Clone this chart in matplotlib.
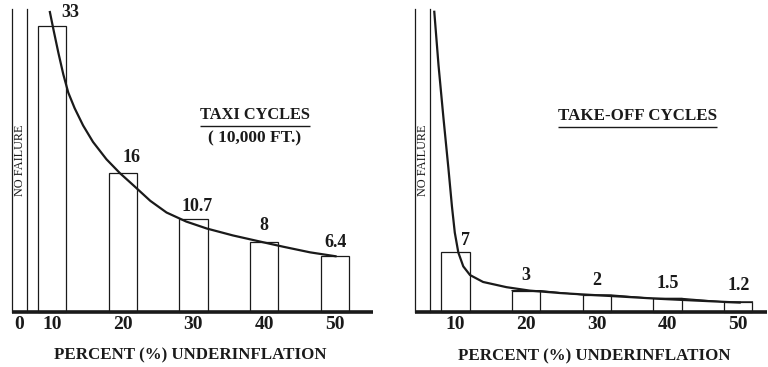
import matplotlib
matplotlib.use("Agg")
import matplotlib.pyplot as plt

# ─── data ────────────────────────────────────────────────────────────────────

UNDERINFLATION = [10, 20, 30, 40, 50]

TAXI_VALUES = [33, 16, 10.7, 8, 6.4]
TAXI_LABELS = ["33", "16", "10.7", "8", "6.4"]

TAKEOFF_VALUES = [7, 2.5, 2.0, 1.6, 1.2]          # bar heights as drawn
TAKEOFF_LABELS = ["7", "3", "2", "1.5", "1.2"]

# fitted curves
TAXI_CURVE_X = [9.7, 10.2, 10.9, 11.6, 12.3, 13.2, 14.4, 15.8, 17.7, 19.6,
                21.5, 23.9, 26.2, 29.0, 31.9, 35.6, 39.4, 42.7, 46.5, 50.1]
TAXI_CURVE_Y = [34.6, 32.6, 29.9, 27.4, 25.3, 23.5, 21.5, 19.6, 17.6, 16.0,
                14.6, 12.8, 11.45, 10.4, 9.6, 8.8, 8.1, 7.5, 6.85, 6.4]

TAKEOFF_CURVE_X = [7.0, 7.6, 8.3, 9.0, 9.5, 9.9, 10.4, 11.1, 12.05, 13.9,
                   17.2, 20.5, 24.8, 28.0, 33.2, 38.9, 44.0, 50.2]
TAKEOFF_CURVE_Y = [34.7, 28.5, 22.4, 16.6, 12.2, 9.2, 6.9, 5.3, 4.3, 3.5,
                   2.9, 2.5, 2.22, 2.06, 1.82, 1.55, 1.35, 1.12]

# ─── style ───────────────────────────────────────────────────────────────────

FONT = ["Liberation Serif", "DejaVu Serif"]
INK = "#1a1a1a"
BAR_W = 4.0

plt.rcParams["font.family"] = FONT


def underline(ax, txt, fig, gap=0.35):
    fig.canvas.draw()
    bb = txt.get_window_extent()
    inv = ax.transData.inverted()
    (x0, y0), (x1, _) = inv.transform([(bb.x0, bb.y0), (bb.x1, bb.y1)])
    ax.plot([x0, x1], [y0 - gap, y0 - gap], color=INK, lw=1.0,
            solid_capstyle="butt")


def draw_panel(ax, values, labels, label_dx, label_dy, cx, cy, xlim, ylim,
               axis_x, nofail_x, base_right, zero_label=False, gaps=False):
    ax.set_xlim(*xlim)
    ax.set_ylim(*ylim)
    ax.axis("off")

    # bars
    ax.bar(UNDERINFLATION, values, width=BAR_W, color="white",
           edgecolor=INK, linewidth=0.9, zorder=2)

    # connecting tops between later bars
    if gaps:
        xs, ys = [], []
        for x, v in zip(UNDERINFLATION[1:], values[1:]):
            xs += [x - BAR_W / 2, x + BAR_W / 2]
            ys += [v, v]
        ax.plot(xs, ys, color=INK, lw=0.9, zorder=2)

    # axes / no-failure line
    top = 35.0
    ax.plot([axis_x, axis_x], [0, top], color=INK, lw=0.9, zorder=3)
    ax.plot([nofail_x, nofail_x], [0, top], color=INK, lw=0.9, zorder=3)
    ax.plot([axis_x, base_right], [0, 0], color=INK, lw=2.6,
            solid_capstyle="butt", zorder=4)
    ax.text((axis_x + nofail_x) / 2 + 0.05, 17.5, "NO FAILURE", rotation=90,
            ha="center", va="center", fontsize=8.8, color=INK)

    # fitted curve
    ax.plot(cx, cy, color=INK, lw=1.6, zorder=5, solid_joinstyle="round")

    # value labels
    for x, v, lab, dx, dy in zip(UNDERINFLATION, values, labels, label_dx, label_dy):
        ax.text(x + dx, v + dy, lab, ha="center", va="center",
                fontsize=13, fontweight="bold", color=INK, zorder=6)

    # tick labels
    for x in UNDERINFLATION:
        ax.text(x, -1.45, str(x), ha="center", va="center",
                fontsize=14, fontweight="bold", color=INK)
    if zero_label:
        ax.text(5.35, -1.45, "0", ha="center", va="center",
                fontsize=14, fontweight="bold", color=INK)

    ax.text(29.6, -5.05, "PERCENT (%) UNDERINFLATION", ha="center",
            va="center", fontsize=12.2, fontweight="bold", color=INK)


fig = plt.figure(figsize=(7.68, 3.67), dpi=100, facecolor="white")

ax_l = fig.add_axes([0, 0, 0.5, 1])
ax_r = fig.add_axes([0.5, 0, 0.5, 1])

draw_panel(ax_l, TAXI_VALUES, TAXI_LABELS,
           label_dx=[2.6, 1.2, 0.5, 0.0, 0.1],
           label_dy=[1.5, 1.75, 1.4, 1.9, 1.55],
           cx=TAXI_CURVE_X, cy=TAXI_CURVE_Y,
           xlim=(2.645, 56.96), ylim=(-6.39, 35.99),
           axis_x=4.34, nofail_x=6.42, base_right=55.4, zero_label=True)

draw_panel(ax_r, TAKEOFF_VALUES, TAKEOFF_LABELS,
           label_dx=[1.4, 0.0, 0.0, 0.0, 0.0],
           label_dy=[1.3, 1.7, 1.65, 1.75, 1.9],
           cx=TAKEOFF_CURVE_X, cy=TAKEOFF_CURVE_Y,
           xlim=(-0.113, 54.2), ylim=(-6.32, 36.06),
           axis_x=4.27, nofail_x=6.35, base_right=54.1, gaps=True)

t1 = ax_l.text(38.67, 22.7, "TAXI CYCLES", ha="center", va="center",
               fontsize=11.8, fontweight="bold", color=INK)
ax_l.text(38.65, 20.0, "( 10,000 FT.)", ha="center", va="center",
          fontsize=12.5, fontweight="bold", color=INK)
t2 = ax_r.text(35.8, 22.7, "TAKE-OFF CYCLES", ha="center", va="center",
               fontsize=12.2, fontweight="bold", color=INK)

underline(ax_l, t1, fig)
underline(ax_r, t2, fig)

fig.savefig("out.png", dpi=100, facecolor="white")
